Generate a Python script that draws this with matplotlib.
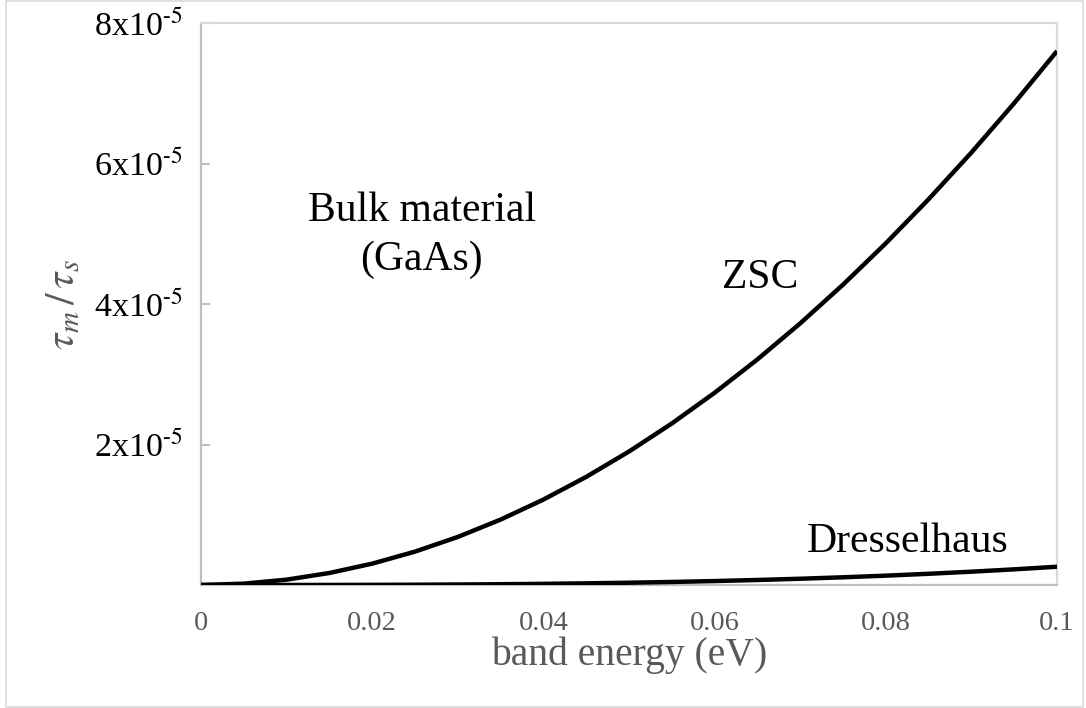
import matplotlib
matplotlib.use("Agg")
import matplotlib.pyplot as plt
from matplotlib.patches import Rectangle

plt.rcParams['font.family'] = ['Liberation Serif', 'DejaVu Serif']
plt.rcParams['mathtext.fontset'] = 'stix'

# Data
energy = [0.0, 0.005, 0.01, 0.015, 0.02, 0.025, 0.03, 0.035, 0.04, 0.045, 0.05,
          0.055, 0.06, 0.065, 0.07, 0.075, 0.08, 0.085, 0.09, 0.095, 0.1]
zsc = [0.0, 0.019, 0.076, 0.171, 0.304, 0.475, 0.684, 0.931, 1.216, 1.539, 1.90,
       2.299, 2.736, 3.211, 3.724, 4.275, 4.864, 5.491, 6.156, 6.859, 7.60]
dresselhaus = [0.0, 0.00003, 0.00026, 0.0009, 0.0021, 0.0041, 0.0070, 0.0111, 0.0166,
               0.0237, 0.0325, 0.0433, 0.0562, 0.0714, 0.0892, 0.1097, 0.1331, 0.1597,
               0.1895, 0.2229, 0.26]
scale = 1e-5
zsc_v = [v * scale for v in zsc]
dres_v = [v * scale for v in dresselhaus]

xticks = [0, 0.02, 0.04, 0.06, 0.08, 0.1]
xticklabels = ['0', '0.02', '0.04', '0.06', '0.08', '0.1']
yticks = [2e-5, 4e-5, 6e-5, 8e-5]
yticklabels = [r'2x10$^{\text{-5}}$', r'4x10$^{\text{-5}}$',
               r'6x10$^{\text{-5}}$', r'8x10$^{\text{-5}}$']

fig = plt.figure(figsize=(10.86, 7.08), dpi=100)
ax = fig.add_axes([201/1086, 1 - 585/708, (1057 - 201)/1086, (585 - 23)/708])

ax.plot(energy, zsc_v, color='black', lw=3.2, solid_capstyle='butt', zorder=3)
ax.plot(energy, dres_v, color='black', lw=3.2, solid_capstyle='butt', zorder=3)

ax.set_xlim(0, 0.1)
ax.set_ylim(0, 8e-5)
ax.set_xticks(xticks)
ax.set_xticklabels(xticklabels)
ax.set_yticks(yticks)
ax.set_yticklabels(yticklabels)

ax.tick_params(axis='x', length=0, pad=19, labelsize=20.5, labelcolor='#595959')
ax.tick_params(axis='y', direction='in', length=6.5, width=1.5, color='#bfbfbf',
               pad=13, labelsize=24.5, labelcolor='black')

for side in ['left', 'bottom']:
    ax.spines[side].set_color('#bfbfbf')
    ax.spines[side].set_linewidth(1.6)
for side in ['top', 'right']:
    ax.spines[side].set_color('#d9d9d9')
    ax.spines[side].set_linewidth(1.6)

ax.set_xlabel('band energy (eV)', fontsize=28.5, color='#595959', labelpad=0)
ax.set_ylabel(r'$\tau_m\,/\,\tau_s$', fontsize=30, color='#595959', labelpad=8)

ax.text(0.0258, 4.98e-5, 'Bulk material\n(GaAs)', fontsize=30, ha='center', va='center',
        linespacing=1.33)
ax.text(0.0653, 4.37e-5, 'ZSC', fontsize=30, ha='center', va='center')
ax.text(0.0826, 0.61e-5, 'Dresselhaus', fontsize=30, ha='center', va='center')

fig.patches.append(Rectangle((6/1086, 1/708), (1083 - 6)/1086, 706/708,
                             transform=fig.transFigure, fill=False,
                             edgecolor='#d9d9d9', lw=1.2))

fig.savefig('out.png', dpi=100, facecolor='white')
